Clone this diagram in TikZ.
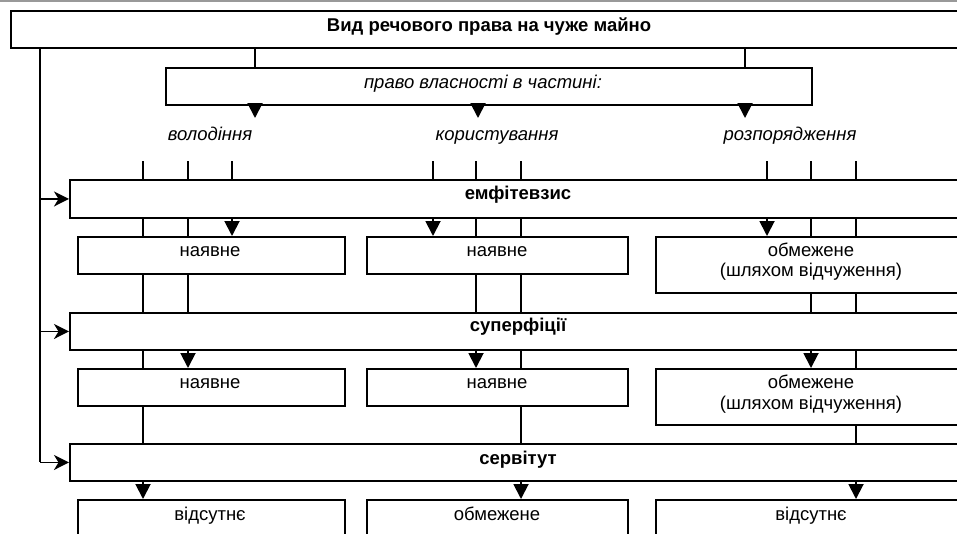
\documentclass[tikz,border=0pt]{standalone}
\usepackage{fontspec}
\setmainfont{Liberation Sans}
\usetikzlibrary{arrows.meta}
\begin{document}
\begin{tikzpicture}[x=1pt,y=-1pt,
  box/.style={draw, line width=1.9pt, anchor=north west, inner sep=0pt, minimum width=#1},
  txt/.style={inner sep=0pt, anchor=mid, yshift=-4.5pt, font=\fontsize{18.5}{22}\selectfont},
  btxt/.style={txt, font=\fontsize{18.5}{22}\selectfont\bfseries},
  itxt/.style={txt, font=\fontsize{18.5}{22}\selectfont\itshape},
  ln/.style={line width=1.9pt},
  dar/.style={ln, -{Triangle[width=15pt,length=15pt]}},
  lar/.style={ln, -{Stealth[width=15pt,length=15pt,inset=4.5pt]}}]
\useasboundingbox (0,0) rectangle (957,533);
\clip (0,0) rectangle (957,533);
% top gray line
\coordinate (gl) at (0,1);
\coordinate (gr) at (957,1);
\draw[gray!80, line width=1.4pt] (gl) -- (gr);
% boxes
\node[box=958pt, minimum height=37pt] (top) at (10,10) {};
\node[box=646pt, minimum height=37pt] (pravo) at (165,67) {};
\node[box=898pt, minimum height=38pt] (emf) at (69,179) {};
\node[box=267pt, minimum height=37pt] (r1a) at (77,236) {};
\node[box=261pt, minimum height=37pt] (r1b) at (366,236) {};
\node[box=312pt, minimum height=56pt] (r1c) at (655,236) {};
\node[box=898pt, minimum height=37pt] (sup) at (69,312) {};
\node[box=267pt, minimum height=37pt] (r2a) at (77,368) {};
\node[box=261pt, minimum height=37pt] (r2b) at (366,368) {};
\node[box=312pt, minimum height=56pt] (r2c) at (655,368) {};
\node[box=898pt, minimum height=37pt] (serv) at (69,443) {};
\node[box=267pt, minimum height=37pt] (r3a) at (77,499) {};
\node[box=261pt, minimum height=37pt] (r3b) at (366,499) {};
\node[box=312pt, minimum height=37pt] (r3c) at (655,499) {};
% texts
\node[btxt] (ttop) at (489,24) {Вид речового права на чуже майно};
\node[itxt] (tpravo) at (483,81) {право власності в частині:};
\node[itxt] (lv) at (210,133) {володіння};
\node[itxt] (lk) at (497,133) {користування};
\node[itxt] (lr) at (790,133) {розпорядження};
\node[btxt] (temf) at (518,192) {емфітевзис};
\node[txt] (t1a) at (210,249) {наявне};
\node[txt] (t1b) at (497,249) {наявне};
\node[txt] (t1c1) at (811,249) {обмежене};
\node[txt] (t1c2) at (811,269) {(шляхом відчуження)};
\node[btxt] (tsup) at (518,324) {суперфіції};
\node[txt] (t2a) at (210,381) {наявне};
\node[txt] (t2b) at (497,381) {наявне};
\node[txt] (t2c1) at (811,381) {обмежене};
\node[txt] (t2c2) at (811,402) {(шляхом відчуження)};
\node[btxt] (tserv) at (518,457) {сервітут};
\node[txt] (t3a) at (210,513) {відсутнє};
\node[txt] (t3b) at (497,513) {обмежене};
\node[txt] (t3c) at (811,513) {відсутнє};
% columns
\coordinate (bus) at (40,0);
\coordinate (p1) at (255,0);
\coordinate (p2) at (478,0);
\coordinate (p3) at (745,0);
\coordinate (ca) at (143,0);
\coordinate (cb) at (188,0);
\coordinate (cc) at (232,0);
\coordinate (cd) at (433,0);
\coordinate (ce) at (476,0);
\coordinate (cf) at (521,0);
\coordinate (cg) at (767,0);
\coordinate (ch) at (811,0);
\coordinate (ci) at (856,0);
\coordinate (tk) at (0,161);
\coordinate (ae) at (0,118);
% top -> pravo
\draw[ln] (p1 |- top.south) -- (p1 |- pravo.north);
\draw[ln] (p3 |- top.south) -- (p3 |- pravo.north);
% pravo arrows
\draw[dar] (p1 |- pravo.south) -- (p1 |- ae);
\draw[dar] (p2 |- pravo.south) -- (p2 |- ae);
\draw[dar] (p3 |- pravo.south) -- (p3 |- ae);
% left bus
\draw[ln] (bus |- top.south) -- (bus |- serv.west);
\draw[lar] (bus |- emf.west) -- (emf.west);
\draw[lar] (bus |- sup.west) -- (sup.west);
\draw[lar] (bus |- serv.west) -- (serv.west);
% ticks above emf
\foreach \c in {ca,cb,cc,cd,ce,cf,cg,ch,ci}
  \draw[ln] (\c |- tk) -- (\c |- emf.north);
% emf -> row1
\draw[ln] (ca |- emf.south) -- (ca |- r1a.north);
\draw[ln] (cb |- emf.south) -- (cb |- r1a.north);
\draw[dar] (cc |- emf.south) -- (cc |- r1a.north);
\draw[dar] (cd |- emf.south) -- (cd |- r1b.north);
\draw[ln] (ce |- emf.south) -- (ce |- r1b.north);
\draw[ln] (cf |- emf.south) -- (cf |- r1b.north);
\draw[dar] (cg |- emf.south) -- (cg |- r1c.north);
\draw[ln] (ch |- emf.south) -- (ch |- r1c.north);
\draw[ln] (ci |- emf.south) -- (ci |- r1c.north);
% row1 -> sup
\draw[ln] (ca |- r1a.south) -- (ca |- sup.north);
\draw[ln] (cb |- r1a.south) -- (cb |- sup.north);
\draw[ln] (ce |- r1b.south) -- (ce |- sup.north);
\draw[ln] (cf |- r1b.south) -- (cf |- sup.north);
\draw[ln] (ch |- r1c.south) -- (ch |- sup.north);
\draw[ln] (ci |- r1c.south) -- (ci |- sup.north);
% sup -> row2
\draw[ln] (ca |- sup.south) -- (ca |- r2a.north);
\draw[dar] (cb |- sup.south) -- (cb |- r2a.north);
\draw[dar] (ce |- sup.south) -- (ce |- r2b.north);
\draw[ln] (cf |- sup.south) -- (cf |- r2b.north);
\draw[dar] (ch |- sup.south) -- (ch |- r2c.north);
\draw[ln] (ci |- sup.south) -- (ci |- r2c.north);
% row2 -> serv
\draw[ln] (ca |- r2a.south) -- (ca |- serv.north);
\draw[ln] (cf |- r2b.south) -- (cf |- serv.north);
\draw[ln] (ci |- r2c.south) -- (ci |- serv.north);
% serv -> row3
\draw[dar] (ca |- serv.south) -- (ca |- r3a.north);
\draw[dar] (cf |- serv.south) -- (cf |- r3b.north);
\draw[dar] (ci |- serv.south) -- (ci |- r3c.north);
\end{tikzpicture}
\end{document}
